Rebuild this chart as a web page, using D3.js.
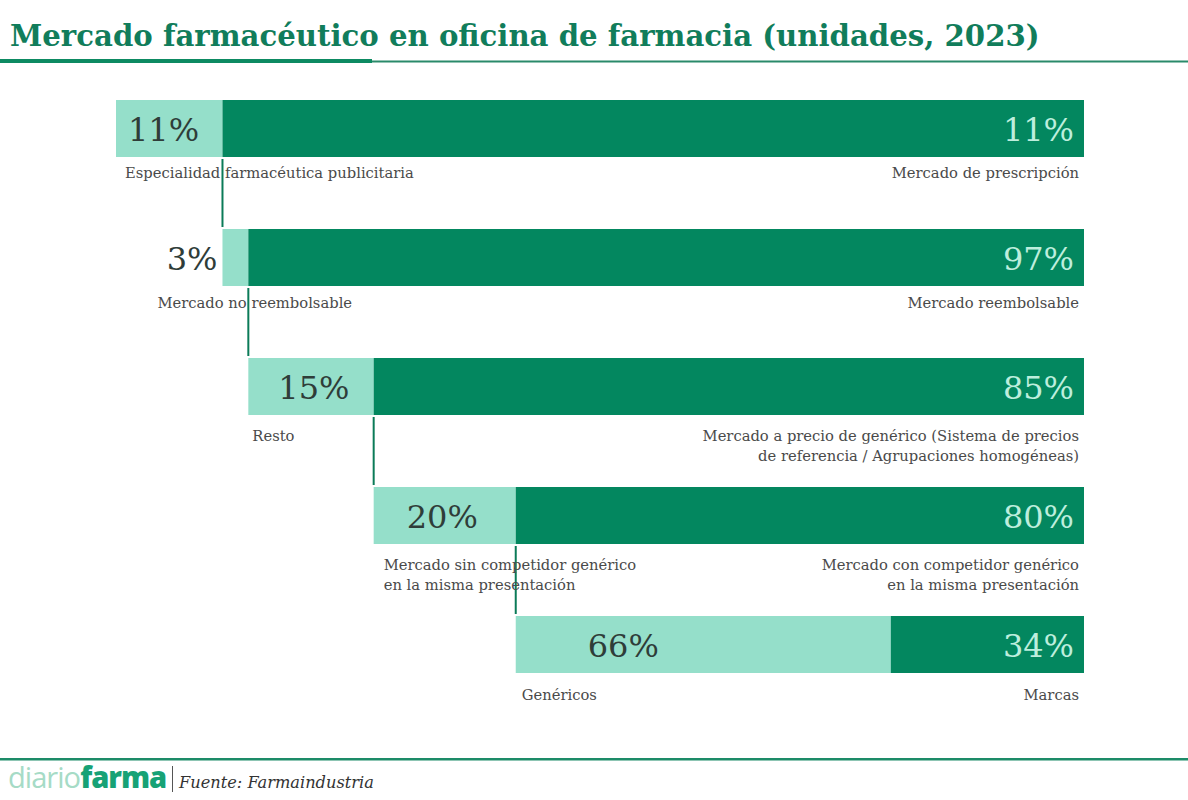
<!DOCTYPE html>
<html><head><meta charset="utf-8">
<script src="https://cdn.jsdelivr.net/npm/d3@7"></script>
<style>body{margin:0;background:#fff}</style>
</head><body><svg id="c" width="1188" height="800"></svg>
<script>
// ---- data ----
const rows = ["r1", "r2", "r3", "r4", "r5"];
const lightShares = [11, 3, 15, 20, 66];
const lightLabels = ["11%", "3%", "15%", "20%", "66%"];
const darkLabels = ["11%", "97%", "85%", "80%", "34%"];
const leftNames = [
  ["Especialidad farmacéutica publicitaria"],
  ["Mercado no reembolsable"],
  ["Resto"],
  ["Mercado sin competidor genérico", "en la misma presentación"],
  ["Genéricos"]
];
const rightNames = [
  ["Mercado de prescripción"],
  ["Mercado reembolsable"],
  ["Mercado a precio de genérico (Sistema de precios", "de referencia / Agrupaciones homogéneas)"],
  ["Mercado con competidor genérico", "en la misma presentación"],
  ["Marcas"]
];
const titleText = "Mercado farmacéutico en oficina de farmacia (unidades, 2023)";
const sourceText = "Fuente: Farmaindustria";

// ---- layout ----
const W = 1188, H = 800;
const DARK = "#03875f", LIGHT = "#95dfca", TITLE = "#117d5b";
const SERIF = "'DejaVu Serif', Georgia, serif";
const svg = d3.select("#c");

const x = d3.scaleLinear().domain([0, 100]).range([116, 1084]);
const y = d3.scaleBand().domain(rows).range([100, 673]).paddingInner(72 / 129);
const bw = y.bandwidth();

// nested segments
let start = 0;
const segs = rows.map((r, i) => {
  const split = start + (100 - start) * lightShares[i] / 100;
  const s = {row: r, i, start, split, end: 100};
  start = split;
  return s;
});

function fit(sel, target) {
  const fs = parseFloat(sel.attr("font-size"));
  const w = sel.node().getComputedTextLength();
  sel.attr("font-size", (fs * target / w).toFixed(2));
  return fs * target / w;
}

// title
const t = svg.append("text").attr("x", 10).attr("y", 46)
  .attr("font-family", SERIF).attr("font-weight", "bold").attr("font-size", 30)
  .attr("fill", TITLE).text(titleText);
fit(t, 1030);
svg.append("rect").attr("x", 0).attr("y", 59).attr("width", 372).attr("height", 4).attr("fill", "#0d8a62");
svg.append("rect").attr("x", 372).attr("y", 60.5).attr("width", W - 372).attr("height", 2).attr("fill", "#2a8a6a");

// bars
const g = svg.append("g");
g.selectAll("rect.light").data(segs).join("rect").attr("class", "light")
  .attr("x", d => x(d.start)).attr("y", d => y(d.row))
  .attr("width", d => x(d.split) - x(d.start)).attr("height", bw).attr("fill", LIGHT);
g.selectAll("rect.dark").data(segs).join("rect").attr("class", "dark")
  .attr("x", d => x(d.split)).attr("y", d => y(d.row))
  .attr("width", d => x(d.end) - x(d.split)).attr("height", bw).attr("fill", DARK);

// connectors
g.selectAll("line.conn").data(segs.slice(0, -1)).join("line").attr("class", "conn")
  .attr("x1", d => x(d.split)).attr("x2", d => x(d.split))
  .attr("y1", d => y(d.row) + bw + 2).attr("y2", d => y(rows[d.i + 1]) - 2)
  .attr("stroke", "#0b7b58").attr("stroke-width", 2);

// percentage labels
const PCT = 32;
const lightDx = [12, null, 30, 33, 72];
g.selectAll("text.lp").data(segs).join("text").attr("class", "lp")
  .attr("x", d => lightDx[d.i] === null ? x(d.start) - 5 : x(d.start) + lightDx[d.i])
  .attr("text-anchor", d => lightDx[d.i] === null ? "end" : "start")
  .attr("y", d => y(d.row) + 41)
  .attr("font-family", SERIF).attr("font-size", PCT).attr("fill", "#2f3d39")
  .text(d => lightLabels[d.i]);
g.selectAll("text.dp").data(segs).join("text").attr("class", "dp")
  .attr("x", x(100) - 10).attr("text-anchor", "end")
  .attr("y", d => y(d.row) + 41)
  .attr("font-family", SERIF).attr("font-size", PCT).attr("fill", "#bdeedd")
  .text(d => darkLabels[d.i]);

// names
const probe = svg.append("text").attr("font-family", SERIF).attr("font-size", 15)
  .text(leftNames[0][0]);
const LFS = fit(probe, 289);
probe.remove();
const leftDx = [9, -65, 4, 10, 6];
const baseDy = [21, 22, 26, 26, 27];
const LH = 20;
segs.forEach(d => {
  const lt = g.append("text").attr("font-family", SERIF).attr("font-size", LFS).attr("fill", "#4a4a4a")
    .attr("x", x(d.start) + leftDx[d.i]).attr("y", y(d.row) + bw + baseDy[d.i]);
  leftNames[d.i].forEach((s, k) => lt.append("tspan").attr("x", x(d.start) + leftDx[d.i]).attr("dy", k ? LH : 0).text(s));
  const rt = g.append("text").attr("font-family", SERIF).attr("font-size", LFS).attr("fill", "#4a4a4a")
    .attr("text-anchor", "end").attr("x", x(100) - 5).attr("y", y(d.row) + bw + baseDy[d.i]);
  rightNames[d.i].forEach((s, k) => rt.append("tspan").attr("x", x(100) - 5).attr("dy", k ? LH : 0).text(s));
});

// footer
svg.append("rect").attr("x", 0).attr("y", 758).attr("width", W).attr("height", 2.5).attr("fill", "#1d8b68");
const logo = svg.append("text").attr("x", 8).attr("y", 788).attr("font-family", "'Open Sans', sans-serif")
  .attr("font-size", 26).attr("letter-spacing", -1);
logo.append("tspan").attr("fill", "#a6dbc6").attr("font-weight", 400).text("diario");
logo.append("tspan").attr("fill", "#17a276").attr("font-weight", 800).text("farma");
fit(logo, 157);
svg.append("line").attr("x1", 172.5).attr("x2", 172.5).attr("y1", 766).attr("y2", 792)
  .attr("stroke", "#555").attr("stroke-width", 1);
const src = svg.append("text").attr("x", 179).attr("y", 788).attr("font-family", SERIF)
  .attr("font-style", "italic").attr("font-size", 17).attr("fill", "#333").text(sourceText);
fit(src, 195);
</script></body></html>
